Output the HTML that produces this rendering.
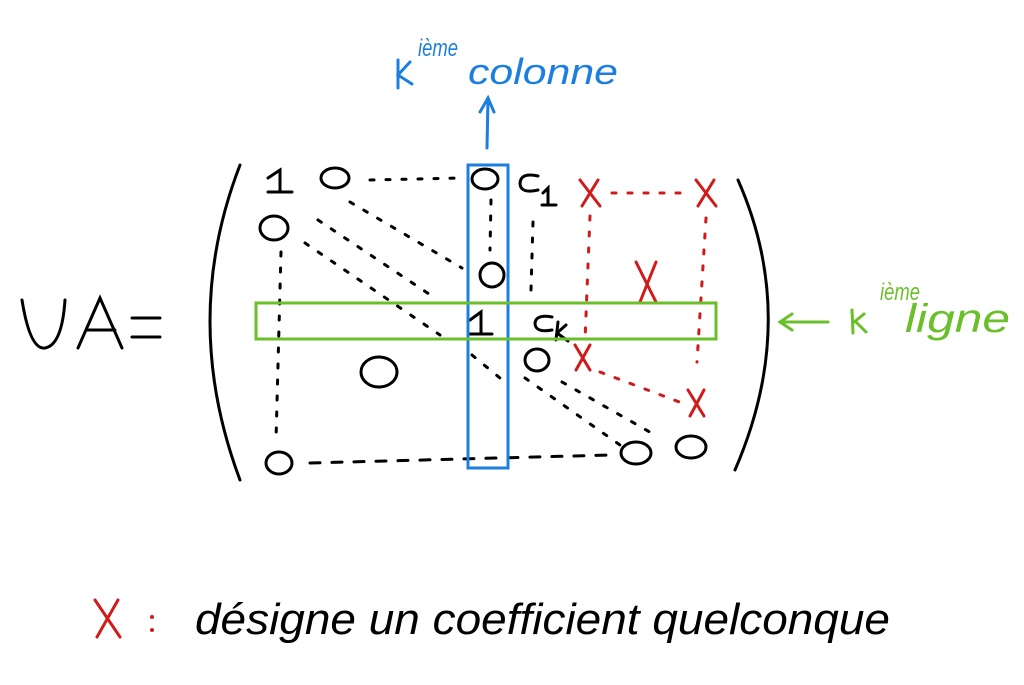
<!DOCTYPE html>
<html><head><meta charset="utf-8"><style>
html,body{margin:0;padding:0;background:#fff;width:1024px;height:685px;overflow:hidden}
svg text{font-family:"Liberation Sans",sans-serif}
</style></head><body>
<svg width="1024" height="685" viewBox="0 0 1024 685" xmlns="http://www.w3.org/2000/svg">
<g fill="none" stroke="#000" stroke-width="3" stroke-linecap="round">
<path d="M22 300 Q30 350 45 348 Q62 345 65 300"/>
<path d="M78 348 L100 298 L122 348 M86 330 L115 330"/>
<path d="M132 318 L160 318 M132 337 L160 337"/>
<path d="M240 165 Q180 320 240 480"/>
<path d="M738 180 Q800 320 735 470"/>
<ellipse cx="335" cy="178" rx="14" ry="10"/>
<ellipse cx="485" cy="179" rx="13" ry="10"/>
<ellipse cx="274" cy="228" rx="14" ry="12"/>
<ellipse cx="492" cy="275" rx="12" ry="12"/>
<ellipse cx="537" cy="360" rx="12" ry="11"/>
<ellipse cx="379" cy="372" rx="18" ry="15"/>
<ellipse cx="279" cy="463" rx="13" ry="11"/>
<ellipse cx="636" cy="453" rx="15" ry="11"/>
<ellipse cx="691" cy="447" rx="15" ry="11"/>
<path d="M268 178 L280 170 L280 192 M268 192 L292 192"/>
<path d="M470 320 L481 312 L481 334 M470 334 L492 334"/>
<path d="M538 176 Q520 172 520 184 Q521 194 538 190"/>
<path d="M543 193 L548 188 L548 205 M542 205 L556 205"/>
<path d="M552 317 Q535 314 535 324 Q536 333 552 330"/>
<path d="M558 322 L556 340 M557 333 L566 325 M557 333 L568 341"/>
<g stroke-dasharray="4 12">
<path d="M370 180 L462 178"/>
<path d="M491 200 L490 250"/>
<path d="M350 202 L462 268"/>
<path d="M305 243 L440 335"/>
<path d="M318 220 L435 298"/>
<path d="M281 252 L276 440"/>
<path d="M533 222 L531 290"/>
<path d="M472 355 L500 378"/>
<path d="M525 378 L620 445"/>
<path d="M562 382 L655 435"/>
</g>
<path d="M310 463 L610 455" stroke-dasharray="10 12"/>
</g>
<g fill="none" stroke="#d11a1a" stroke-width="3" stroke-linecap="round">
<path d="M580 180 L600 206 M598 180 L582 206"/>
<path d="M696 180 L716 206 M714 180 L698 206"/>
<path d="M636 262 L656 302 M656 262 L640 302"/>
<path d="M575 345 L590 370 M590 345 L576 370"/>
<path d="M688 390 L704 416 M704 390 L690 416"/>
<path d="M95 600 L120 637 M118 600 L97 637"/>
<g stroke-dasharray="4 12">
<path d="M612 193 L690 193"/>
<path d="M590 216 L585 340"/>
<path d="M706 218 L697 362"/>
<path d="M600 372 L682 403"/>
</g>
</g>
<g fill="none" stroke="#1c7fe0" stroke-width="3" stroke-linecap="round">
<rect x="468" y="165" width="40" height="303"/>
<path d="M487 148 L488 98 M480 112 L488 98 L494 112"/>
<path d="M398 60 L398 88 M410 62 L398 75 L412 84"/>
</g>
<text x="418" y="56" font-size="24" fill="#1c7fe0" font-style="italic" textLength="40" lengthAdjust="spacingAndGlyphs">ième</text>
<text x="468" y="84" font-size="36" fill="#1c7fe0" font-style="italic" textLength="150" lengthAdjust="spacingAndGlyphs">colonne</text>
<g fill="none" stroke="#6abf2a" stroke-width="3" stroke-linecap="round">
<rect x="256" y="303" width="460" height="36"/>
<path d="M828 322 L780 322 M792 314 L780 322 L792 330"/>
<path d="M852 310 L853 333 M864 314 L853 323 M856 322 L866 332"/>
</g>
<text x="880" y="300" font-size="24" fill="#6abf2a" font-style="italic" textLength="40" lengthAdjust="spacingAndGlyphs">ième</text>
<text x="905" y="332" font-size="40" fill="#6abf2a" font-style="italic" textLength="105" lengthAdjust="spacingAndGlyphs">ligne</text>
<circle cx="152" cy="617" r="2" fill="#d11a1a"/>
<circle cx="152" cy="630" r="2" fill="#d11a1a"/>
<text x="195" y="634" font-size="44" fill="#000" font-style="italic" textLength="695" lengthAdjust="spacingAndGlyphs">désigne un coefficient quelconque</text>
</svg>
</body></html>
